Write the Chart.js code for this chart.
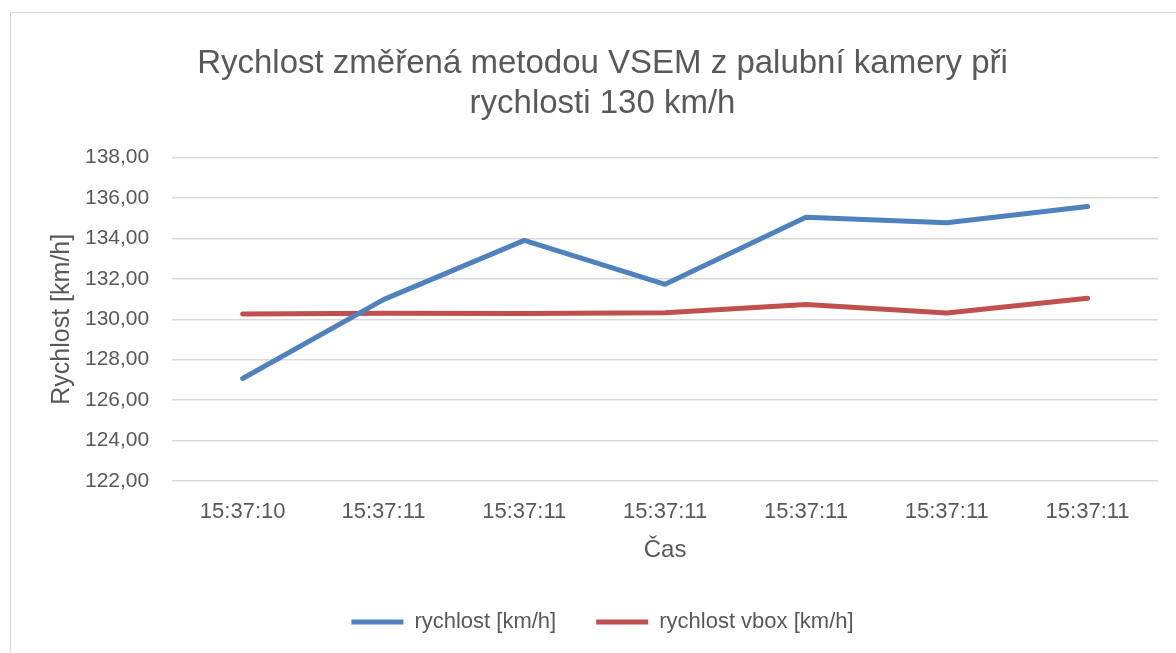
<!DOCTYPE html>
<html>
<head>
<meta charset="utf-8">
<script src="https://cdn.jsdelivr.net/npm/chart.js@4/dist/chart.umd.min.js"></script>
<style>
html,body{margin:0;padding:0;background:#fff;}
#wrap{position:relative;width:1176px;height:653px;}
</style>
</head>
<body>
<div id="wrap"><canvas id="c" width="1176" height="653"></canvas></div>
<script>
const categories = ["15:37:10","15:37:11","15:37:11","15:37:11","15:37:11","15:37:11","15:37:11"];
const rychlost = [127.07, 130.97, 133.90, 131.73, 135.05, 134.77, 135.58];
const rychlostVbox = [130.26, 130.30, 130.28, 130.32, 130.73, 130.31, 131.04];
const seriesNames = ["rychlost [km/h]", "rychlost vbox [km/h]"];
const titleLines = ["Rychlost změřená metodou VSEM z palubní kamery při", "rychlosti 130 km/h"];
const yTitle = "Rychlost [km/h]";
const xTitle = "Čas";

const FONT = "'Liberation Sans', sans-serif";
const GREY = "#595959";

const borderPlugin = {
  id: 'outerBorder',
  beforeDraw(chart) {
    const ctx = chart.ctx;
    ctx.save();
    ctx.fillStyle = '#fff';
    ctx.fillRect(0, 0, chart.width, chart.height);
    ctx.strokeStyle = '#d9d9d9';
    ctx.lineWidth = 1;
    ctx.strokeRect(10.5, 12.5, chart.width + 20, chart.height + 20);
    ctx.restore();
  }
};

new Chart(document.getElementById('c'), {
  type: 'line',
  data: {
    labels: categories,
    datasets: [
      { label: seriesNames[0], data: rychlost, borderColor: '#4F81BD', backgroundColor: '#4F81BD', borderWidth: 5, pointRadius: 0, tension: 0, borderCapStyle: 'round', borderJoinStyle: 'round' },
      { label: seriesNames[1], data: rychlostVbox, borderColor: '#C0504D', backgroundColor: '#C0504D', borderWidth: 5, pointRadius: 0, tension: 0, borderCapStyle: 'round', borderJoinStyle: 'round' }
    ]
  },
  options: {
    responsive: false,
    animation: false,
    layout: { padding: { left: 47, right: 18, top: 22, bottom: 10 } },
    plugins: {
      title: {
        display: true,
        text: titleLines,
        color: GREY,
        font: { family: FONT, size: 33, weight: 'normal', lineHeight: 1.22 },
        padding: { top: 22, bottom: 33 }
      },
      legend: {
        position: 'bottom',
        labels: {
          color: GREY,
          font: { family: FONT, size: 22 },
          boxWidth: 52,
          boxHeight: 5,
          padding: 40,
          generateLabels(chart) {
            const items = Chart.defaults.plugins.legend.labels.generateLabels(chart);
            items.forEach(i => { i.lineWidth = 0; i.fillStyle = i.strokeStyle; });
            return items;
          }
        }
      },
      tooltip: { enabled: false }
    },
    scales: {
      x: {
        offset: true,
        grid: { display: false, drawTicks: false },
        border: { display: false },
        ticks: { color: GREY, font: { family: FONT, size: 22 }, padding: 18, maxRotation: 0, autoSkip: false },
        title: { display: true, text: xTitle, color: GREY, font: { family: FONT, size: 24 }, padding: { top: -7.8, bottom: 6.6 } }
      },
      y: {
        min: 122, max: 138,
        grid: { color: '#d9d9d9', lineWidth: 1.5, drawTicks: false },
        border: { display: false },
        ticks: { stepSize: 2, color: GREY, font: { family: FONT, size: 21 }, padding: 23,
          callback: v => v.toFixed(2).replace('.', ',') },
        title: { display: true, text: yTitle, color: GREY, font: { family: FONT, size: 25 }, padding: { top: 0, bottom: -15 } }
      }
    }
  },
  plugins: [borderPlugin]
});
</script>
</body>
</html>
